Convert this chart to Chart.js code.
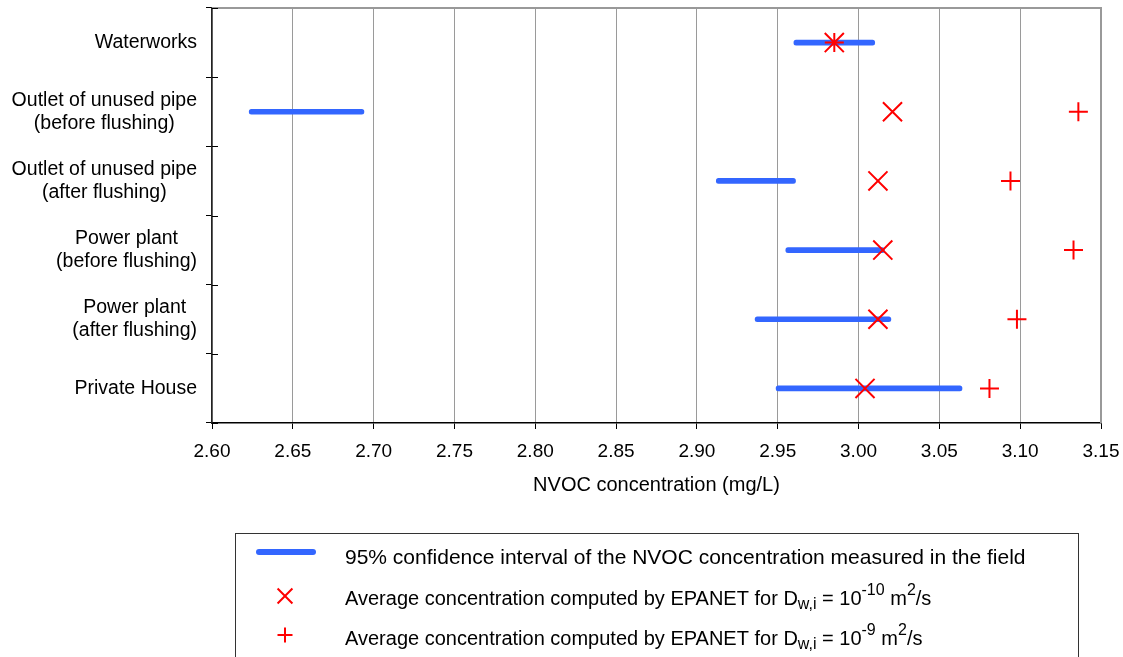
<!DOCTYPE html>
<html>
<head>
<meta charset="utf-8">
<script src="https://cdn.jsdelivr.net/npm/chart.js@4.4.1/dist/chart.umd.min.js"></script>
<style>
  html, body { margin: 0; padding: 0; background: #fff; }
  #wrap { width: 1123px; height: 657px; }
</style>
</head>
<body>
<div id="wrap"><canvas id="chart" width="1123" height="657"></canvas></div>
<script>
// sampling sites, top to bottom
const sites = [
    ['Waterworks'],
    ['Outlet of unused pipe', '(before flushing)'],
    ['Outlet of unused pipe', '(after flushing)'],
    ['Power plant', '(before flushing)'],
    ['Power plant', '(after flushing)'],
    ['Private House']
];
// 95% confidence interval of field NVOC (mg/L)
const ciLow  = [2.960, 2.623, 2.912, 2.955, 2.936, 2.949];
const ciHigh = [3.010, 2.694, 2.961, 3.016, 3.020, 3.064];
// EPANET averages for the two diffusion coefficients
const epanetD10 = [2.985, 3.021, 3.012, 3.015, 3.012, 3.004];
const epanetD9  = [2.985, 3.136, 3.094, 3.133, 3.098, 3.081];
const xTicks = [2.60, 2.65, 2.70, 2.75, 2.80, 2.85, 2.90, 2.95, 3.00, 3.05, 3.10, 3.15];

const FONT = '"Liberation Sans", Arial, sans-serif';
const BLUE = '#3366ff';
const RED = '#ff0000';

Chart.defaults.font.family = FONT;
Chart.defaults.font.size = 19;
Chart.defaults.color = '#000';

// site names: block right-aligned next to the axis, lines centred inside the block
const siteLabels = {
    id: 'siteLabels',
    afterDraw(chart) {
        const { ctx, scales: { y } } = chart;
        const right = y.right - 15;
        ctx.save();
        ctx.font = '19.5px ' + FONT;
        ctx.fillStyle = '#000';
        ctx.textAlign = 'center';
        ctx.textBaseline = 'middle';
        sites.forEach((lines, i) => {
            const yc = y.getPixelForValue(i);
            const w = Math.max(...lines.map(l => ctx.measureText(l).width));
            lines.forEach((l, j) => {
                ctx.fillText(l, right - w / 2, yc + (j - (lines.length - 1) / 2) * 23);
            });
        });
        ctx.restore();
    }
};

// grey frame on top/right and inner half of the y tick marks
const frame = {
    id: 'frame',
    beforeDatasetsDraw(chart) {
        const { ctx, chartArea: a, scales: { y } } = chart;
        ctx.save();
        ctx.strokeStyle = '#999';
        ctx.lineWidth = 2;
        ctx.beginPath();
        ctx.moveTo(a.left, a.top);
        ctx.lineTo(a.right, a.top);
        ctx.lineTo(a.right, a.bottom);
        ctx.stroke();
        ctx.strokeStyle = '#000';
        ctx.lineWidth = 1;
        ctx.beginPath();
        for (let i = 0; i <= sites.length; i++) {
            const py = Math.round(y.getPixelForValue(i - 0.5)) + 0.5;
            ctx.moveTo(a.left, py);
            ctx.lineTo(a.left + 6, py);
        }
        ctx.stroke();
        ctx.restore();
    }
};

// boxed legend below the axis title
const legendBox = {
    id: 'legendBox',
    afterDraw(chart) {
        const ctx = chart.ctx;
        const bx = 235.5, by = 533.5, bw = 843;
        const tx = 345;
        const row1 = '21px ' + FONT, big = '20px ' + FONT, small = '16px ' + FONT;
        ctx.save();
        ctx.strokeStyle = '#333';
        ctx.lineWidth = 1;
        ctx.strokeRect(bx, by, bw, 200);

        // row 1: confidence interval line
        ctx.strokeStyle = BLUE;
        ctx.lineWidth = 6;
        ctx.lineCap = 'round';
        ctx.beginPath();
        ctx.moveTo(259, 552);
        ctx.lineTo(313, 552);
        ctx.stroke();

        // rows 2, 3: markers
        ctx.strokeStyle = RED;
        ctx.fillStyle = RED;
        ctx.lineCap = 'butt';
        ctx.lineWidth = 2;
        Chart.helpers.drawPoint(ctx, { pointStyle: 'crossRot', radius: 10.5, borderWidth: 2, rotation: 0 }, 285, 596);
        Chart.helpers.drawPoint(ctx, { pointStyle: 'cross', radius: 7.5, borderWidth: 2, rotation: 0 }, 285, 635);

        ctx.fillStyle = '#000';
        ctx.textBaseline = 'middle';
        ctx.textAlign = 'left';
        ctx.font = row1;
        ctx.fillText('95% confidence interval of the NVOC concentration measured in the field', tx, 558);

        const runs = (parts, x, yy) => {
            parts.forEach(([txt, kind]) => {
                ctx.font = kind ? small : big;
                const dy = kind === 'sub' ? 6 : kind === 'sup' ? -8 : 0;
                ctx.fillText(txt, x, yy + dy);
                x += ctx.measureText(txt).width;
            });
        };
        const base = 'Average concentration computed by EPANET for D';
        runs([[base], ['w,i', 'sub'], [' = 10'], ['-10', 'sup'], [' m'], ['2', 'sup'], ['/s']], tx, 599);
        runs([[base], ['w,i', 'sub'], [' = 10'], ['-9', 'sup'], [' m'], ['2', 'sup'], ['/s']], tx, 639);
        ctx.restore();
    }
};

new Chart(document.getElementById('chart'), {
    type: 'bar',
    data: {
        labels: sites.map(s => s.join(' ')),
        datasets: [
            {
                label: '95% confidence interval',
                data: ciLow.map((lo, i) => [lo, ciHigh[i]]),
                backgroundColor: BLUE,
                barThickness: 5,
                borderRadius: 3,
                borderSkipped: false,
                order: 2
            },
            {
                type: 'line',
                label: 'EPANET Dw,i = 1e-10',
                data: epanetD10,
                showLine: false,
                pointStyle: 'crossRot',
                pointRadius: 13.5,
                pointBorderWidth: 2,
                pointBorderColor: RED,
                pointBackgroundColor: RED,
                order: 1
            },
            {
                type: 'line',
                label: 'EPANET Dw,i = 1e-9',
                data: epanetD9,
                showLine: false,
                pointStyle: 'cross',
                pointRadius: 9.5,
                pointBorderWidth: 2,
                pointBorderColor: RED,
                pointBackgroundColor: RED,
                order: 0
            }
        ]
    },
    options: {
        indexAxis: 'y',
        responsive: false,
        devicePixelRatio: 1,
        animation: false,
        events: [],
        layout: {
            autoPadding: false,
            padding: { left: 0, top: 8, right: 22, bottom: 160 }
        },
        plugins: {
            legend: { display: false },
            tooltip: { enabled: false }
        },
        scales: {
            x: {
                type: 'linear',
                position: 'bottom',
                min: 2.6,
                max: 3.15,
                afterBuildTicks: s => { s.ticks = xTicks.map(v => ({ value: v })); },
                afterFit: s => { s.height = 74; s.paddingLeft = 0; s.paddingRight = 0; },
                ticks: {
                    padding: 11,
                    maxRotation: 0,
                    callback: v => v.toFixed(2)
                },
                grid: {
                    color: '#9a9a9a',
                    tickColor: '#000',
                    tickLength: 6,
                    lineWidth: 1
                },
                border: { color: '#000', width: 1.5 },
                title: {
                    display: true,
                    text: 'NVOC concentration (mg/L)',
                    font: { size: 20 },
                    padding: { top: 0, bottom: 0 }
                }
            },
            y: {
                type: 'category',
                position: 'left',
                offset: true,
                afterFit: s => { s.width = 212; s.paddingTop = 0; s.paddingBottom = 0; },
                ticks: { display: false },
                grid: {
                    offset: true,
                    drawOnChartArea: false,
                    tickLength: 6,
                    tickColor: '#000'
                },
                border: { color: '#222', width: 1.5 }
            }
        }
    },
    plugins: [frame, siteLabels, legendBox]
});
</script>
</body>
</html>
